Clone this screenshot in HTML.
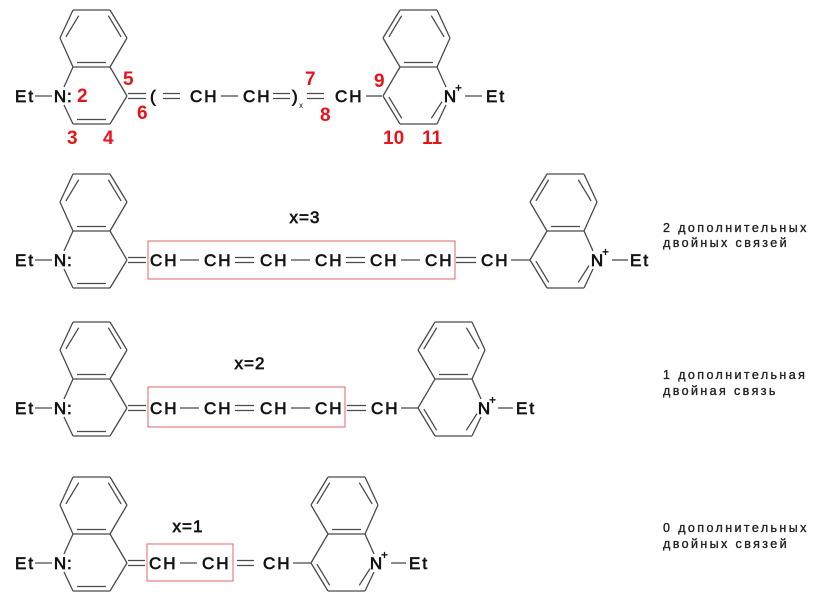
<!DOCTYPE html>
<html><head><meta charset="utf-8"><style>
html,body{margin:0;padding:0;background:#fff;}
svg{display:block;}
.t{font-family:"Liberation Sans",sans-serif;font-size:17px;letter-spacing:2px;fill:#141414;stroke:#141414;stroke-width:0.7;}
.s{font-family:"Liberation Sans",sans-serif;font-size:10px;fill:#141414;}
.r{font-family:"Liberation Sans",sans-serif;font-size:19px;font-weight:bold;fill:#e8141c;}
.lab{font-family:"Liberation Sans",sans-serif;font-size:12.5px;letter-spacing:2.4px;fill:#222;stroke:#222;stroke-width:0.35;}
.b line, line.b{stroke:#4a4a4a;stroke-width:1.3;}
.box{fill:none;stroke:#e06666;stroke-width:1;}
</style></head><body>
<svg width="835" height="598" viewBox="0 0 835 598" xmlns="http://www.w3.org/2000/svg">
<defs>
<g id="qL" class="b">
  <line x1="4" y1="-9" x2="13" y2="-29"/><line x1="4" y1="9" x2="13" y2="28"/>
  <line x1="13" y1="28" x2="50" y2="28"/><line x1="50" y1="28" x2="67" y2="0"/>
  <line x1="67" y1="0" x2="50" y2="-29"/><line x1="13" y1="-29" x2="50" y2="-29"/>
  <line x1="13" y1="-29" x2="0" y2="-58"/><line x1="0" y1="-58" x2="13" y2="-86"/>
  <line x1="13" y1="-86" x2="50" y2="-86"/><line x1="50" y1="-86" x2="67" y2="-58"/>
  <line x1="67" y1="-58" x2="50" y2="-29"/>
  <line x1="48.3" y1="-80.3" x2="61.1" y2="-59.1"/><line x1="18.7" y1="-80.3" x2="5.9" y2="-59.1"/>
  <line x1="17" y1="-33.5" x2="46" y2="-33.5"/><line x1="17" y1="23.5" x2="46" y2="23.5"/>
</g>
<g id="qR" class="b">
  <line x1="-4" y1="-9" x2="-13" y2="-29"/><line x1="-4" y1="9" x2="-13" y2="28"/>
  <line x1="-13" y1="28" x2="-50" y2="28"/><line x1="-50" y1="28" x2="-67" y2="0"/>
  <line x1="-67" y1="0" x2="-50" y2="-29"/><line x1="-13" y1="-29" x2="-50" y2="-29"/>
  <line x1="-13" y1="-29" x2="0" y2="-58"/><line x1="0" y1="-58" x2="-13" y2="-86"/>
  <line x1="-13" y1="-86" x2="-50" y2="-86"/><line x1="-50" y1="-86" x2="-67" y2="-58"/>
  <line x1="-67" y1="-58" x2="-50" y2="-29"/>
  <line x1="-48.3" y1="-80.3" x2="-61.1" y2="-59.1"/><line x1="-18.7" y1="-80.3" x2="-5.9" y2="-59.1"/>
  <line x1="-17" y1="-33.5" x2="-46" y2="-33.5"/>
  <line x1="-8" y1="5.6" x2="-18.7" y2="22.3"/><line x1="-61.1" y1="1.1" x2="-48.3" y2="22.3"/>
</g>
</defs>

<!-- Row 1 -->
<use href="#qL" x="60" y="96"/>
<use href="#qR" x="450" y="96"/>
<text class="t" x="15" y="102">Et</text>
<line class="b" x1="35" y1="96" x2="52" y2="96"/>
<text class="t" x="60" y="102" text-anchor="middle" style="letter-spacing:0">N</text>
<text class="t" x="67" y="102">:</text>
<g class="b"><line x1="128" y1="93.5" x2="146" y2="93.5"/><line x1="128" y1="98.5" x2="146" y2="98.5"/></g>
<text class="t" x="150" y="102">(</text>
<g class="b"><line x1="163" y1="93.5" x2="180" y2="93.5"/><line x1="163" y1="98.5" x2="180" y2="98.5"/></g>
<text class="t" x="190" y="102">CH</text>
<line class="b" x1="221" y1="96" x2="238" y2="96"/>
<text class="t" x="243" y="102">CH</text>
<g class="b"><line x1="273" y1="93.5" x2="290" y2="93.5"/><line x1="273" y1="98.5" x2="290" y2="98.5"/></g>
<text class="t" x="292" y="102">)</text>
<text class="s" x="299" y="108" style="font-size:8px">x</text>
<g class="b"><line x1="307" y1="93.5" x2="324" y2="93.5"/><line x1="307" y1="98.5" x2="324" y2="98.5"/></g>
<text class="t" x="335" y="102">CH</text>
<line class="b" x1="366" y1="96" x2="382" y2="96"/>
<text class="t" x="450" y="102" text-anchor="middle" style="letter-spacing:0">N</text>
<text class="s" x="455" y="92" style="font-size:12px;font-weight:bold">+</text>
<line class="b" x1="465" y1="96" x2="482" y2="96"/>
<text class="t" x="486" y="102">Et</text>
<text class="r" x="77" y="102">2</text>
<text class="r" x="123" y="85">5</text>
<text class="r" x="137" y="119">6</text>
<text class="r" x="67" y="144">3</text>
<text class="r" x="103" y="144">4</text>
<text class="r" x="305" y="85">7</text>
<text class="r" x="320" y="121">8</text>
<text class="r" x="374" y="87">9</text>
<text class="r" x="383" y="144">10</text>
<text class="r" x="422" y="144">11</text>

<!-- Row 2 -->
<use href="#qL" x="60" y="260"/>
<use href="#qR" x="597" y="260"/>
<text class="t" x="15" y="266">Et</text>
<line class="b" x1="35" y1="260" x2="52" y2="260"/>
<text class="t" x="60" y="266" text-anchor="middle" style="letter-spacing:0">N</text>
<text class="t" x="67" y="266">:</text>
<g class="b"><line x1="128" y1="257.5" x2="146" y2="257.5"/><line x1="128" y1="262.5" x2="146" y2="262.5"/></g>
<text class="t" x="305" y="223" style="letter-spacing:1px" text-anchor="middle">x=3</text>
<rect class="box" x="148" y="241" width="307" height="38"/>
<text class="t" x="150" y="266">CH</text>
<line class="b" x1="180" y1="260" x2="199" y2="260"/>
<text class="t" x="204" y="266">CH</text>
<g class="b"><line x1="235" y1="257.5" x2="254" y2="257.5"/><line x1="235" y1="262.5" x2="254" y2="262.5"/></g>
<text class="t" x="260" y="266">CH</text>
<line class="b" x1="291" y1="260" x2="310" y2="260"/>
<text class="t" x="315" y="266">CH</text>
<g class="b"><line x1="346" y1="257.5" x2="365" y2="257.5"/><line x1="346" y1="262.5" x2="365" y2="262.5"/></g>
<text class="t" x="370" y="266">CH</text>
<line class="b" x1="401" y1="260" x2="420" y2="260"/>
<text class="t" x="425" y="266">CH</text>
<g class="b"><line x1="456" y1="257.5" x2="476" y2="257.5"/><line x1="456" y1="262.5" x2="476" y2="262.5"/></g>
<text class="t" x="481" y="266">CH</text>
<line class="b" x1="511" y1="260" x2="530" y2="260"/>
<text class="t" x="597" y="266" text-anchor="middle" style="letter-spacing:0">N</text>
<text class="s" x="602" y="256" style="font-size:12px;font-weight:bold">+</text>
<line class="b" x1="612" y1="260" x2="628" y2="260"/>
<text class="t" x="630" y="266">Et</text>
<text class="lab" x="663" y="232">2 дополнительных</text>
<text class="lab" x="663" y="247">двойных связей</text>

<!-- Row 3 -->
<use href="#qL" x="60" y="408"/>
<use href="#qR" x="485" y="408"/>
<text class="t" x="15" y="414">Et</text>
<line class="b" x1="35" y1="408" x2="52" y2="408"/>
<text class="t" x="60" y="414" text-anchor="middle" style="letter-spacing:0">N</text>
<text class="t" x="67" y="414">:</text>
<g class="b"><line x1="128" y1="405.5" x2="146" y2="405.5"/><line x1="128" y1="410.5" x2="146" y2="410.5"/></g>
<text class="t" x="250" y="369" style="letter-spacing:1px" text-anchor="middle">x=2</text>
<rect class="box" x="148" y="387" width="197" height="40"/>
<text class="t" x="150" y="414">CH</text>
<line class="b" x1="180" y1="408" x2="199" y2="408"/>
<text class="t" x="204" y="414">CH</text>
<g class="b"><line x1="235" y1="405.5" x2="254" y2="405.5"/><line x1="235" y1="410.5" x2="254" y2="410.5"/></g>
<text class="t" x="260" y="414">CH</text>
<line class="b" x1="291" y1="408" x2="310" y2="408"/>
<text class="t" x="315" y="414">CH</text>
<g class="b"><line x1="347" y1="405.5" x2="366" y2="405.5"/><line x1="347" y1="410.5" x2="366" y2="410.5"/></g>
<text class="t" x="371" y="414">CH</text>
<line class="b" x1="401" y1="408" x2="418" y2="408"/>
<text class="t" x="484" y="414" text-anchor="middle" style="letter-spacing:0">N</text>
<text class="s" x="489" y="404" style="font-size:12px;font-weight:bold">+</text>
<line class="b" x1="498" y1="408" x2="513" y2="408"/>
<text class="t" x="516" y="414">Et</text>
<text class="lab" x="663" y="379">1 дополнительная</text>
<text class="lab" x="663" y="395">двойная связь</text>

<!-- Row 4 -->
<use href="#qL" x="60" y="563"/>
<use href="#qR" x="378" y="563"/>
<text class="t" x="15" y="569">Et</text>
<line class="b" x1="35" y1="563" x2="52" y2="563"/>
<text class="t" x="60" y="569" text-anchor="middle" style="letter-spacing:0">N</text>
<text class="t" x="67" y="569">:</text>
<g class="b"><line x1="128" y1="560.5" x2="145" y2="560.5"/><line x1="128" y1="565.5" x2="145" y2="565.5"/></g>
<text class="t" x="188" y="532" style="letter-spacing:1px" text-anchor="middle">x=1</text>
<rect class="box" x="147" y="544" width="86" height="37"/>
<text class="t" x="149" y="569">CH</text>
<line class="b" x1="180" y1="563" x2="197" y2="563"/>
<text class="t" x="202" y="569">CH</text>
<g class="b"><line x1="237" y1="560.5" x2="254" y2="560.5"/><line x1="237" y1="565.5" x2="254" y2="565.5"/></g>
<text class="t" x="263" y="569">CH</text>
<line class="b" x1="293" y1="563" x2="311" y2="563"/>
<text class="t" x="376" y="569" text-anchor="middle" style="letter-spacing:0">N</text>
<text class="s" x="381" y="559" style="font-size:12px;font-weight:bold">+</text>
<line class="b" x1="391" y1="563" x2="406" y2="563"/>
<text class="t" x="409" y="569">Et</text>
<text class="lab" x="663" y="532">0 дополнительных</text>
<text class="lab" x="663" y="548">двойных связей</text>
</svg>
</body></html>
